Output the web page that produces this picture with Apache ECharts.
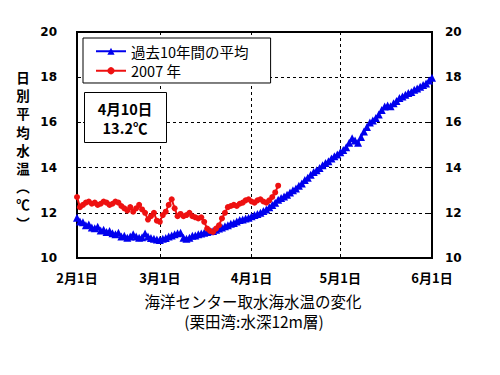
<!DOCTYPE html>
<html><head><meta charset="utf-8">
<script src="https://cdn.jsdelivr.net/npm/echarts@6/dist/echarts.min.js"></script>
<style>html,body{margin:0;padding:0;background:#fff}#c{width:500px;height:375px}</style>
</head><body><div id="c"></div>
<script>
// x categories: daily, Feb 1 .. Jun 1 (2007)
const monthNames = [2, 3, 4, 5];
const monthDays = [28, 31, 30, 31];
const categories = [];
monthNames.forEach((m, i) => { for (let d = 1; d <= monthDays[i]; d++) categories.push(m + '月' + d + '日'); });
categories.push('6月1日');
const tickLabels = ['2月1日', '3月1日', '4月1日', '5月1日', '6月1日'];
const yTicks = [10, 12, 14, 16, 18, 20];

const avg10Name = '過去10年間の平均';
const avg10 = [
 11.78,11.62,11.58,11.45,11.48,11.35,11.32,11.38,11.22,11.25,
 11.15,11.2,11.1,11.05,11.12,10.95,10.98,10.9,10.95,11.05,
 10.95,10.9,10.92,11.08,10.95,10.88,10.85,10.82,10.8,10.85,
 10.88,10.95,11.0,11.05,11.1,11.12,10.9,10.85,10.9,10.98,
 11.0,11.05,11.08,11.12,11.15,11.18,11.2,11.25,11.3,11.35,
 11.4,11.45,11.52,11.55,11.62,11.68,11.7,11.75,11.78,11.85,
 11.9,11.95,12.0,12.08,12.15,12.25,12.35,12.45,12.58,12.65,
 12.72,12.8,12.9,13.0,13.08,13.2,13.3,13.45,13.55,13.68,
 13.8,13.88,13.98,14.1,14.2,14.28,14.4,14.5,14.58,14.68,
 14.78,14.9,15.1,15.3,15.2,15.1,15.35,15.6,15.8,16.0,
 16.08,16.2,16.35,16.55,16.7,16.75,16.72,16.85,16.95,17.08,
 17.15,17.22,17.3,17.35,17.45,17.5,17.58,17.65,17.72,17.85,
 17.98
];
const y2007Name = '2007 年';
const y2007 = [
 12.7,12.25,12.35,12.45,12.5,12.4,12.45,12.35,12.4,12.5,
 12.45,12.35,12.4,12.5,12.45,12.3,12.2,12.1,12.25,12.05,
 12.2,12.35,12.15,12.0,11.7,11.85,12.0,11.65,11.6,11.9,
 12.05,12.35,12.6,12.2,11.85,11.95,11.85,11.9,12.0,11.85,
 11.8,11.75,11.8,11.6,11.3,11.2,11.15,11.3,11.45,11.75,
 12.0,12.25,12.3,12.35,12.3,12.4,12.45,12.55,12.6,12.5,
 12.45,12.55,12.6,12.5,12.45,12.55,12.7,12.9,13.2
];
const noteLines = ['4月10日', '13.2℃'];
const yTitle = ['日','別','平','均','水','温','︵','℃','︶'];
const xTitle = ['海洋センター取水海水温の変化', '(栗田湾:水深12m層)'];

const JP = '"Noto Sans CJK JP", "Noto Sans", sans-serif';
const NUM = '"DejaVu Sans", sans-serif';
const isTick = (idx, val) => tickLabels.indexOf(val) >= 0;

const chart = echarts.init(document.getElementById('c'), null, {renderer: 'svg'});
const yAxisBase = {
  type: 'value', min: yTicks[0], max: yTicks[yTicks.length - 1], interval: 2,
  axisLine: {show: true, lineStyle: {color: '#000', width: 2}},
  axisTick: {show: true, inside: true, length: 4, lineStyle: {color: '#000'}},
  axisLabel: {color: '#000', fontFamily: NUM, fontWeight: 'bold', fontSize: 12}
};
const titleGraphics = yTitle.map((ch, i) => ({
  type: 'text', x: 23, y: 77 + i * 18.2,
  style: {text: ch, fontFamily: JP, fontWeight: 'bold', fontSize: 13.5, lineHeight: 15, fill: '#000', textAlign: 'center', textVerticalAlign: 'middle'}
}));
chart.setOption({
  animation: false,
  backgroundColor: '#fff',
  grid: {left: 77, right: 68, top: 32, bottom: 117, show: true, borderColor: '#000', borderWidth: 2, backgroundColor: 'transparent'},
  xAxis: {
    type: 'category', data: categories, boundaryGap: false,
    axisLine: {lineStyle: {color: '#000', width: 2}},
    axisTick: {show: false},
    axisLabel: {interval: isTick, color: '#000', fontFamily: JP, fontWeight: 'bold', fontSize: 13, margin: 13},
    splitLine: {show: true, interval: isTick, lineStyle: {color: '#000', type: [3, 3], width: 1}}
  },
  yAxis: [
    Object.assign({}, yAxisBase, {position: 'left', axisLabel: Object.assign({}, yAxisBase.axisLabel, {margin: 20}),
      splitLine: {show: true, lineStyle: {color: '#000', type: [3, 3], width: 1}}}),
    Object.assign({}, yAxisBase, {position: 'right', axisLabel: Object.assign({}, yAxisBase.axisLabel, {margin: 13}),
      splitLine: {show: false}})
  ],
  legend: {
    orient: 'vertical', left: 83, top: 38,
    backgroundColor: '#fff', borderColor: '#000', borderWidth: 1, borderRadius: 0,
    padding: [6, 22, 5, 12], itemGap: 5, itemWidth: 30, itemHeight: 9,
    textStyle: {fontFamily: JP, fontSize: 14.5, color: '#000'},
    data: [avg10Name, y2007Name]
  },
  series: [
    {name: avg10Name, type: 'line', data: avg10, symbol: 'triangle', symbolSize: 8, showAllSymbol: true,
      itemStyle: {color: '#0000ee'}, lineStyle: {color: '#0000ee', width: 2}, z: 3},
    {name: y2007Name, type: 'line', data: y2007, symbol: 'circle', symbolSize: 6, showAllSymbol: true,
      itemStyle: {color: '#ee1111'}, lineStyle: {color: '#ee1111', width: 2}, z: 4}
  ],
  graphic: [
    {type: 'rect', left: 84, top: 92, shape: {width: 82, height: 50}, style: {fill: '#fff', stroke: '#000', lineWidth: 1}, z: 10},
    {type: 'text', x: 125, y: 108, style: {text: noteLines[0], fontFamily: JP, fontWeight: 'bold', fontSize: 14.5, fill: '#000', textAlign: 'center', textVerticalAlign: 'middle'}, z: 11},
    {type: 'text', x: 125, y: 127, style: {text: noteLines[1], fontFamily: JP, fontWeight: 'bold', fontSize: 14.5, fill: '#000', textAlign: 'center', textVerticalAlign: 'middle'}, z: 11},
    {type: 'text', x: 253, y: 301, style: {text: xTitle[0], fontFamily: JP, fontSize: 15.5, lineHeight: 17, fill: '#000', textAlign: 'center', textVerticalAlign: 'middle'}},
    {type: 'text', x: 254, y: 321, style: {text: xTitle[1], fontFamily: JP, fontSize: 15.5, lineHeight: 17, fill: '#000', textAlign: 'center', textVerticalAlign: 'middle'}}
  ].concat(titleGraphics)
});
</script></body></html>
